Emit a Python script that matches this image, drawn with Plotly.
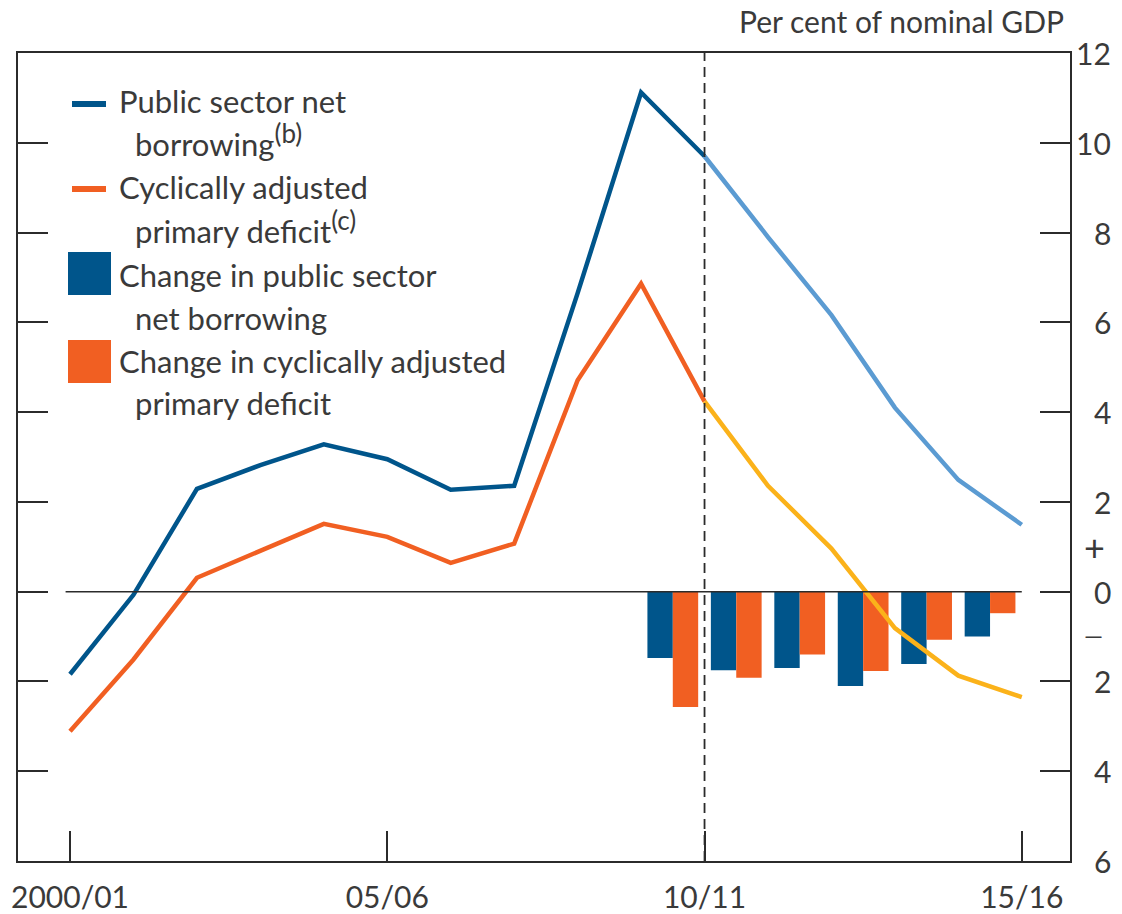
import plotly.graph_objects as go

# ---------------- data ----------------
years = ["2000/01", "01/02", "02/03", "03/04", "04/05", "05/06", "06/07", "07/08",
         "08/09", "09/10", "10/11", "11/12", "12/13", "13/14", "14/15", "15/16"]
psnb = [-1.84, -0.07, 2.29, 2.82, 3.28, 2.95, 2.27, 2.36,
        6.65, 11.12, 9.70, 7.90, 6.16, 4.10, 2.49, 1.49]
cadp = [-3.11, -1.51, 0.31, 0.92, 1.51, 1.22, 0.64, 1.07,
        4.71, 6.86, 4.24, 2.36, 0.96, -0.81, -1.87, -2.35]
split_index = 10  # 10/11: observed before, projection after
change_start = 9  # changes drawn between 09/10 and 15/16
d_psnb = [-1.48, -1.75, -1.70, -2.10, -1.61, -1.00]
d_cadp = [-2.57, -1.92, -1.40, -1.77, -1.07, -0.48]

x_tick_labels = ["2000/01", "05/06", "10/11", "15/16"]
y_tick_vals = [-6, -4, -2, 0, 2, 4, 6, 8, 10, 12]

# ---------------- style ----------------
DARK_BLUE = "#00558B"
LIGHT_BLUE = "#5B9BD2"
ORANGE = "#F15F22"
YELLOW = "#FBB21A"
AXIS = "#2b2b2b"
TEXT = "#3a3a3a"
FONT = "Lato"
FS = 30
FS_LEG = 31
WT = 400

W, H = 1122, 914
# plot frame in page pixels: x 18..1070, y 53..861
ML, MT = 18, 53
MR, MB = W - 1070, H - 861
PW, PH = W - ML - MR, H - MT - MB


def px(x):
    """page pixel x -> paper coordinate"""
    return (x - ML) / PW


def py(y):
    """page pixel y -> paper coordinate"""
    return 1 - (y - MT) / PH


def fnt(size):
    return dict(family=FONT, size=size, color=TEXT, weight=WT)


xs = list(range(len(years)))
xs_obs, xs_proj = xs[: split_index + 1], xs[split_index:]
bar_x = [change_start + i + 0.5 for i in range(len(d_psnb))]

fig = go.Figure()
fig.add_trace(go.Bar(x=bar_x, y=d_psnb, marker=dict(color=DARK_BLUE, line=dict(width=0)),
                     name="Change in public sector net borrowing"))
fig.add_trace(go.Bar(x=bar_x, y=d_cadp, marker=dict(color=ORANGE, line=dict(width=0)),
                     name="Change in cyclically adjusted primary deficit"))
fig.add_trace(go.Scatter(x=xs_obs, y=psnb[: split_index + 1], mode="lines",
                         line=dict(color=DARK_BLUE, width=4.5)))
fig.add_trace(go.Scatter(x=xs_proj, y=psnb[split_index:], mode="lines",
                         line=dict(color=LIGHT_BLUE, width=4.5)))
fig.add_trace(go.Scatter(x=xs_obs, y=cadp[: split_index + 1], mode="lines",
                         line=dict(color=ORANGE, width=4.5)))
fig.add_trace(go.Scatter(x=xs_proj, y=cadp[split_index:], mode="lines",
                         line=dict(color=YELLOW, width=4.5)))

tick_pos = [years.index(t) for t in x_tick_labels]

fig.update_layout(
    width=W, height=H,
    margin=dict(l=ML, r=MR, t=MT, b=MB, autoexpand=False),
    paper_bgcolor="white", plot_bgcolor="white",
    showlegend=False,
    barmode="group", bargap=0.2, bargroupgap=0,
    font=fnt(FS),
    xaxis=dict(range=[-0.82, 15.76], tickvals=tick_pos, ticktext=x_tick_labels,
               ticks="inside", ticklen=30, tickwidth=1.5, tickcolor=AXIS,
               ticklabelstandoff=9, automargin=False,
               showline=True, linecolor=AXIS, linewidth=1.5, mirror=True,
               showgrid=False, zeroline=False,
               tickfont=fnt(FS)),
    yaxis=dict(range=[-6, 12], side="right", tickvals=y_tick_vals,
               showticklabels=False, automargin=False,
               ticks="inside", ticklen=30, tickwidth=1.5, tickcolor=AXIS,
               showline=True, linecolor=AXIS, linewidth=1.5, mirror="ticks",
               showgrid=False, zeroline=False),
)

# zero line and projection divider
fig.add_shape(type="line", xref="x", yref="y", x0=-0.07, x1=15, y0=0, y1=0,
              line=dict(color=AXIS, width=1.5), layer="above")
fig.add_shape(type="line", xref="x", yref="y", x0=split_index, x1=split_index, y0=-6, y1=12,
              line=dict(color=AXIS, width=1.8, dash="10px,6px"), layer="above")

# right-hand tick labels (right-aligned), negative values shown unsigned
for v in y_tick_vals:
    fig.add_annotation(x=px(1113), xref="paper", y=v, yref="y", text=str(abs(v)),
                       showarrow=False, xanchor="right", yanchor="middle",
                       font=fnt(FS))
fig.add_annotation(x=px(1094), xref="paper", y=1.0, yref="y", text="+",
                   showarrow=False, xanchor="center", yanchor="middle",
                   font=fnt(FS + 6))
fig.add_annotation(x=px(1093), xref="paper", y=-0.96, yref="y", text="\u2014",
                   showarrow=False, xanchor="center", yanchor="middle",
                   font=fnt(FS - 6))

# units title
fig.add_annotation(x=px(1066), xref="paper", y=py(21), yref="paper",
                   text="Per cent of nominal GDP", showarrow=False,
                   xanchor="right", yanchor="middle",
                   font=fnt(FS))

# custom legend
SUP = '<sup><span style="font-size:26px">{}</span></sup>'
legend_lines = [
    (117, 101, "Public sector net"),
    (133, 140, "borrowing" + SUP.format("(b)")),
    (117, 187, "Cyclically adjusted"),
    (133, 227, "primary deficit" + SUP.format("(c)")),
    (117, 275, "Change in public sector"),
    (133, 318, "net borrowing"),
    (117, 361, "Change in cyclically adjusted"),
    (133, 403, "primary deficit"),
]
for lx, ly, txt in legend_lines:
    fig.add_annotation(x=px(lx), xref="paper", y=py(ly), yref="paper", text=txt,
                       showarrow=False, xanchor="left", yanchor="middle",
                       font=fnt(FS_LEG))

for ly, col in [(104, DARK_BLUE), (189, ORANGE)]:
    fig.add_shape(type="line", xref="paper", yref="paper", x0=px(72), x1=px(106),
                  y0=py(ly), y1=py(ly), line=dict(color=col, width=6))
for top, col in [(252, DARK_BLUE), (340, ORANGE)]:
    fig.add_shape(type="rect", xref="paper", yref="paper", x0=px(68), x1=px(111),
                  y0=py(top + 43), y1=py(top), fillcolor=col, line=dict(width=0))

fig.write_html(
    "out.html",
    config={"displayModeBar": False},
    post_script="document.body.style.margin='0';document.body.style.overflow='hidden';",
)
